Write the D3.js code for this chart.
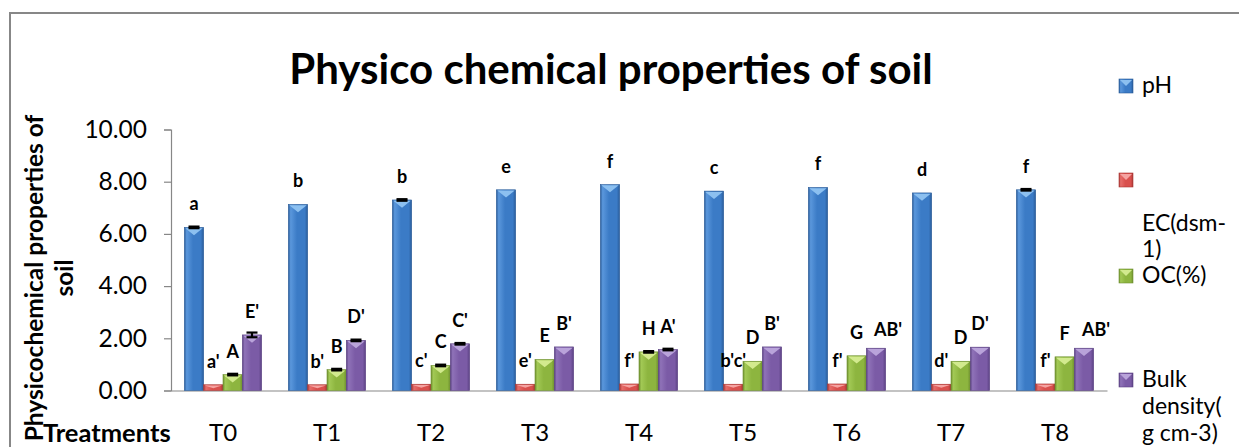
<!DOCTYPE html>
<html>
<head>
<meta charset="utf-8">
<script src="https://cdn.jsdelivr.net/npm/d3@7/dist/d3.min.js"></script>
<style>
  body { margin: 0; background: #ffffff; }
  svg { display: block; }
  text { font-family: Lato, "Open Sans", sans-serif; fill: #000; }
</style>
</head>
<body>
<svg id="chart" width="1239" height="447"></svg>
<script>
// ---- data ----
const treatments = ["T0", "T1", "T2", "T3", "T4", "T5", "T6", "T7", "T8"];
const seriesKeys = ["ph", "ec", "oc", "bd"];
const seriesLabels = ["pH", "EC(dsm-1)", "OC(%)", "Bulk density( g cm-3)"];

const phValues = [6.25, 7.13, 7.30, 7.69, 7.89, 7.64, 7.78, 7.57, 7.69];
const ecValues = [0.22, 0.22, 0.24, 0.24, 0.25, 0.24, 0.25, 0.24, 0.25];
const ocValues = [0.61, 0.80, 0.96, 1.19, 1.48, 1.12, 1.33, 1.12, 1.29];
const bdValues = [2.13, 1.92, 1.79, 1.67, 1.57, 1.67, 1.62, 1.66, 1.62];

const phErrors = [0.03, 0, 0.03, 0, 0, 0, 0, 0, 0.03];
const ecErrors = [0, 0, 0, 0, 0, 0, 0, 0, 0];
const ocErrors = [0.03, 0.03, 0.03, 0, 0.03, 0, 0, 0, 0];
const bdErrors = [0.09, 0.03, 0.03, 0, 0.03, 0, 0, 0, 0];

const phLetters = ["a", "b", "b", "e", "f", "c", "f", "d", "f"];
const ecLetters = ["a'", "b'", "c'", "e'", "f'", "b'c'", "f'", "d'", "f'"];
const ocLetters = ["A", "B", "C", "E", "H", "D", "G", "D", "F"];
const bdLetters = ["E'", "D'", "C'", "B'", "A'", "B'", "AB'", "D'", "AB'"];

const yTicks = [0, 2, 4, 6, 8, 10];

const chartTitle = "Physico chemical properties of soil";
const yTitleLines = ["Physicochemical properties of", "soil"];
const xTitle = "Treatments";

// ---- build rows ----
const valuesBy = { ph: phValues, ec: ecValues, oc: ocValues, bd: bdValues };
const errorsBy = { ph: phErrors, ec: ecErrors, oc: ocErrors, bd: bdErrors };
const lettersBy = { ph: phLetters, ec: ecLetters, oc: ocLetters, bd: bdLetters };

const rows = treatments.map((t, i) => ({
  t,
  bars: seriesKeys.map(k => ({
    key: k, t, value: valuesBy[k][i], err: errorsBy[k][i], letter: lettersBy[k][i]
  }))
}));

// ---- styles ----
const palette = {
  ph: { edge: "#2a5c99", main: "#3b7bc6", light: "#5a97dc", tip: "#8cc0f0" },
  ec: { edge: "#a83634", main: "#d9504d", light: "#e66d6a", tip: "#f5a3a1" },
  oc: { edge: "#6f9030", main: "#8db53f", light: "#a2c955", tip: "#d2ea8e" },
  bd: { edge: "#5b4283", main: "#7b5ba6", light: "#8f72b8", tip: "#b9a3da" }
};

const svg = d3.select("#chart");
const defs = svg.append("defs");
seriesKeys.forEach(k => {
  const c = palette[k];
  const g = defs.append("linearGradient").attr("id", "grad-" + k)
    .attr("x1", "0").attr("x2", "1").attr("y1", "0").attr("y2", "0");
  [[0, c.edge], [0.12, c.light], [0.45, c.main], [0.85, c.main], [1, c.edge]]
    .forEach(([o, col]) => g.append("stop").attr("offset", o).attr("stop-color", col));
});

// ---- frame ----
svg.append("rect").attr("x", 10).attr("y", 13).attr("width", 1240).attr("height", 450)
  .attr("fill", "none").attr("stroke", "#878787").attr("stroke-width", 2);

// ---- scales ----
const plotLeft = 171, plotRight = 1107, plotBottom = 390.5, plotTop = 129.5;
const x0 = d3.scaleBand().domain(treatments).range([plotLeft, plotRight]).padding(0);
const groupWidth = 77.3;
const x1 = d3.scaleBand().domain(seriesKeys)
  .range([(x0.bandwidth() - groupWidth) / 2, (x0.bandwidth() + groupWidth) / 2]).padding(0);
const y = d3.scaleLinear().domain([0, 10]).range([plotBottom, plotTop]);

// ---- axes ----
const yAxis = d3.axisLeft(y).tickValues(yTicks).tickFormat(d3.format(".2f"))
  .tickSize(7).tickPadding(17);
const yG = svg.append("g").attr("transform", `translate(${plotLeft},0)`).call(yAxis);
yG.select(".domain").attr("stroke", "#878787").attr("stroke-width", 1.2);
yG.selectAll(".tick line").attr("stroke", "#878787").attr("stroke-width", 1.2);
yG.selectAll(".tick text").style("font-family", "Lato, sans-serif").style("font-size", "24.5px")
  .attr("fill", "#000");

const xAxis = d3.axisBottom(x0).tickSize(0).tickPadding(33);
const xG = svg.append("g").attr("transform", `translate(0,${plotBottom})`).call(xAxis);
xG.select(".domain").attr("stroke", "#878787").attr("stroke-width", 1.2);
xG.selectAll(".tick text").style("font-family", "Lato, sans-serif").style("font-size", "24px")
  .attr("fill", "#000");

// ---- bars ----
const groups = svg.append("g").selectAll("g").data(rows).join("g")
  .attr("transform", d => `translate(${x0(d.t)},0)`);

const bar = groups.selectAll("g.bar").data(d => d.bars).join("g").attr("class", "bar");
const bw = x1.bandwidth();

bar.append("rect")
  .attr("x", d => x1(d.key))
  .attr("y", d => y(d.value))
  .attr("width", bw)
  .attr("height", d => y(0) - y(d.value))
  .attr("fill", d => `url(#grad-${d.key})`)
  .attr("stroke", d => palette[d.key].edge)
  .attr("stroke-width", 0.6);

// bevelled tip on each bar
bar.append("path")
  .attr("d", d => {
    const left = x1(d.key) + 1, right = x1(d.key) + bw - 1, top = y(d.value) + 0.8;
    const depth = Math.min(7, (y(0) - y(d.value)) * 0.45);
    return `M${left},${top}L${right},${top}L${(left + right) / 2},${top + depth}Z`;
  })
  .attr("fill", d => palette[d.key].tip);

// error bars
const errBars = bar.filter(d => d.err > 0).append("g").attr("class", "err")
  .attr("stroke", "#000").attr("stroke-width", 2.2);
errBars.append("line")
  .attr("x1", d => x1(d.key) + bw / 2).attr("x2", d => x1(d.key) + bw / 2)
  .attr("y1", d => y(d.value + d.err)).attr("y2", d => y(d.value - d.err));
errBars.append("line")
  .attr("x1", d => x1(d.key) + bw / 2 - 5.5).attr("x2", d => x1(d.key) + bw / 2 + 5.5)
  .attr("y1", d => y(d.value + d.err)).attr("y2", d => y(d.value + d.err));
errBars.append("line")
  .attr("x1", d => x1(d.key) + bw / 2 - 5.5).attr("x2", d => x1(d.key) + bw / 2 + 5.5)
  .attr("y1", d => y(d.value - d.err)).attr("y2", d => y(d.value - d.err));

// significance letters above bars; the wider AB' tags sit a little to the right
bar.append("text")
  .attr("x", d => x1(d.key) + bw / 2 + (d.key === "bd" && d.letter.length > 2 ? 12 : 0))
  .attr("y", d => y(d.value) - 17 + (d.key === "bd" && d.letter.length > 2 ? 5 : 0))
  .attr("text-anchor", "middle")
  .style("font-size", "18px").style("font-weight", "700")
  .text(d => d.letter);

// ---- titles ----
svg.append("text").attr("x", 611).attr("y", 84).attr("text-anchor", "middle")
  .style("font-size", "42px").style("font-weight", "700").text(chartTitle);

const yTitle = svg.append("text")
  .attr("transform", "translate(43,278) rotate(-90)")
  .attr("text-anchor", "middle")
  .style("font-size", "24.5px").style("font-weight", "700");
yTitle.selectAll("tspan").data(yTitleLines).join("tspan")
  .attr("x", 0).attr("dy", (d, i) => i === 0 ? 0 : 30).text(d => d);

svg.append("text").attr("x", 43).attr("y", 442)
  .style("font-size", "25.5px").style("font-weight", "700").text(xTitle);

// ---- legend ----
const legendItems = [
  { key: "ph", markerY: 79, lines: [{ text: "pH", y: 93 }] },
  { key: "ec", markerY: 173, lines: [{ text: "EC(dsm-", y: 231 }, { text: "1)", y: 257 }] },
  { key: "oc", markerY: 269, lines: [{ text: "OC(%)", y: 283 }] },
  { key: "bd", markerY: 373, lines: [{ text: "Bulk", y: 387 }, { text: "density(", y: 414 }, { text: "g cm-3)", y: 441 }] }
];
const legend = svg.append("g").attr("class", "legend");
const li = legend.selectAll("g").data(legendItems).join("g");
li.append("rect").attr("x", 1119).attr("y", d => d.markerY).attr("width", 14).attr("height", 14)
  .attr("fill", d => `url(#grad-${d.key})`).attr("stroke", d => palette[d.key].edge).attr("stroke-width", 0.6);
li.append("path")
  .attr("d", d => `M1120,${d.markerY + 1}L1132,${d.markerY + 1}L1126,${d.markerY + 7}Z`)
  .attr("fill", d => palette[d.key].tip);
li.selectAll("text").data(d => d.lines).join("text")
  .attr("x", 1142).attr("y", d => d.y)
  .style("font-size", "23px").text(d => d.text);
</script>
</body>
</html>
